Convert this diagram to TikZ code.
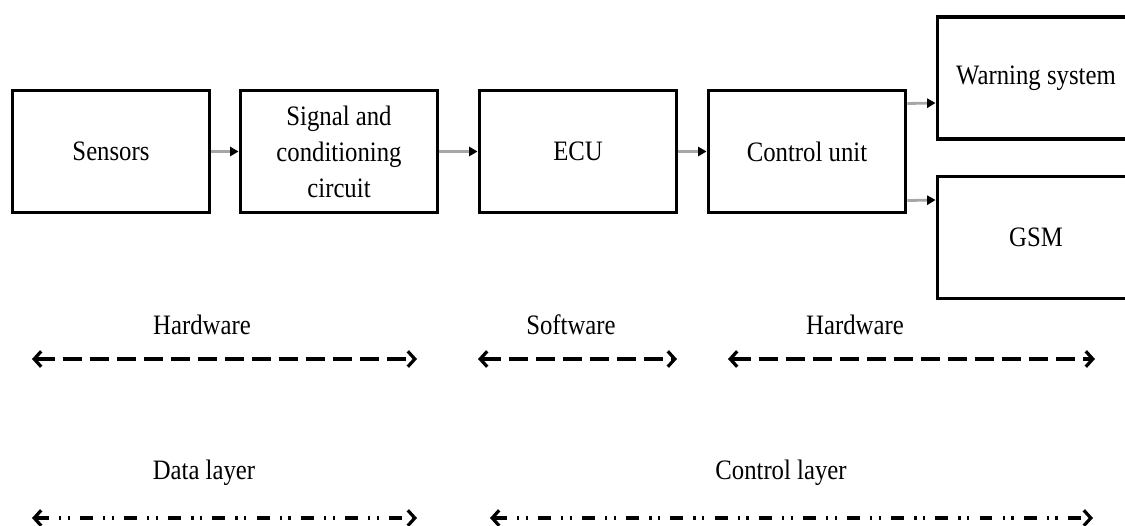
\documentclass[tikz,border=0pt]{standalone}
\usepackage{fontspec}
\setmainfont[FakeStretch=0.88]{Liberation Serif}
\usetikzlibrary{positioning,calc,arrows.meta}
\tikzset{
	bloc/.style={draw,line width=2.6pt,minimum width=4.93cm,minimum height=3.05cm,inner sep=2pt,align=center,font=\fontsize{20}{25.6}\selectfont},
	lien/.style={draw=black!35,line width=2pt,-{Triangle[length=6pt,width=6.5pt,color=black]}},
	etiq/.style={font=\fontsize{20}{24}\selectfont},
	barbe/.style={{Straight Barb[length=5pt,width=11pt]}-{Straight Barb[length=5pt,width=11pt]}},
	tirets/.style={barbe,line width=2.3pt,dash pattern=on 13.5pt off 5.7pt},
	mixtes/.style={barbe,line width=2.3pt,dash pattern=on 9.2pt off 7.2pt on 1.6pt off 4.6pt on 1.6pt off 7.2pt}
}

\begin{document}
\begin{tikzpicture}[x=0.025cm,y=-0.025cm]
	
	\useasboundingbox (0,0) rectangle (1125,526);
	\clip (0,0) rectangle (1125,526); % les deux derniers blocs sortent du cadre
	
	%Blocs
	\node[bloc] (capteurs) at (111,151.5) {Sensors};
	\node[bloc] (signal) at (339,151.5) {Signal and\\conditioning\\circuit};
	\node[bloc] (ecu) at (578,151.5) {ECU};
	\node[bloc] (commande) at (807,151.5) {Control unit};
	\node[bloc] (alerte) at (1036,78) {Warning system};
	\node[bloc] (gsm) at (1036,237.5) {GSM};
	
	%Liens
	\draw[lien] (capteurs) -- (signal);
	\draw[lien] (signal) -- (ecu);
	\draw[lien] (ecu) -- (commande);
	\draw[lien] ([yshift=1.2cm]commande.east) -- ([yshift=-0.625cm]alerte.west);
	\draw[lien] ([yshift=-1.225cm]commande.east) -- ([yshift=0.9375cm]gsm.west);
	
	%Extremites des fleches
	\coordinate (hA) at (32,359);
	\coordinate (hB) at (417,359);
	\coordinate (sA) at (478,359);
	\coordinate (sB) at (677,359);
	\coordinate (kA) at (728,359);
	\coordinate (kB) at (1095,359);
	\coordinate (dA) at (32,518);
	\coordinate (dB) at (417,518);
	\coordinate (cA) at (490,518);
	\coordinate (cB) at (1093,518);
	
	%Materiel / logiciel
	\node[etiq] (hw1) at (202,325) {Hardware};
	\node[etiq] (sw) at (571,325) {Software};
	\node[etiq] (hw2) at (855,325) {Hardware};
	\draw[tirets] (hA) -- (hB);
	\draw[tirets] (sA) -- (sB);
	\draw[tirets] (kA) -- (kB);
	
	%Couches
	\node[etiq] (donnees) at (204,473) {Data layer};
	\node[etiq] (controle) at (781,473) {Control layer};
	\draw[mixtes] (dA) -- (dB);
	\draw[mixtes] (cA) -- (cB);
	
\end{tikzpicture}
\end{document}
